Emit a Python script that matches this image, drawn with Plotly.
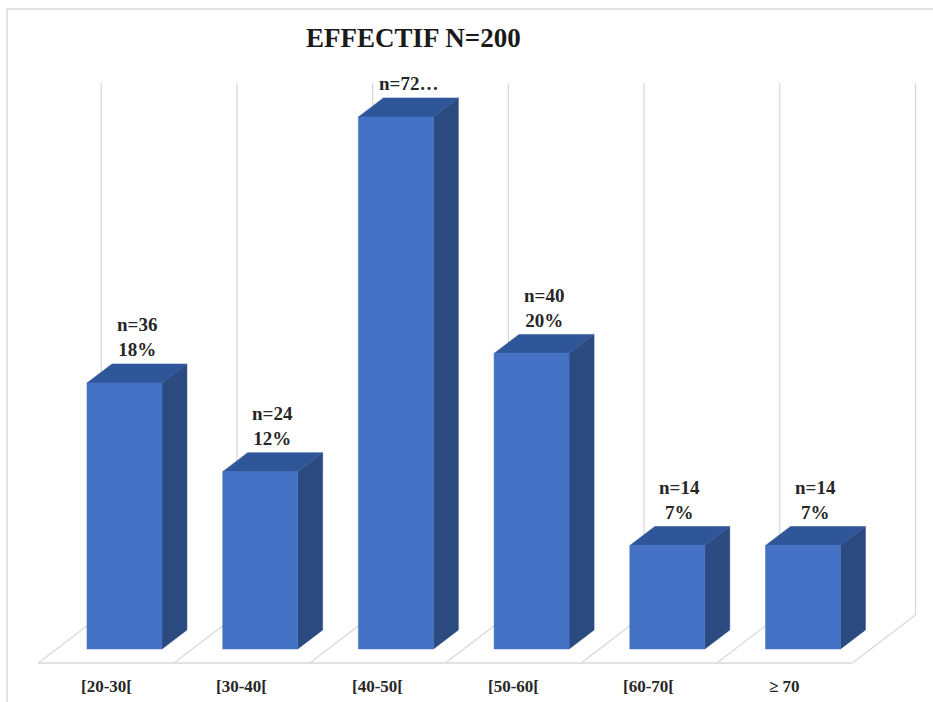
import plotly.graph_objects as go

# Age groups, counts and shares (N = 200)
categories = ["[20-30[", "[30-40[", "[40-50[", "[50-60[", "[60-70[", "\u2265 70"]
counts = [36, 24, 72, 40, 14, 14]
percents = [18, 12, 36, 20, 7, 7]
bar_labels = ["n=36<br>18%", "n=24<br>12%", "n=72\u2026", "n=40<br>20%", "n=14<br>7%", "n=14<br>7%"]
title_text = "EFFECTIF N=200"
wall_top = 36

# Oblique projection of the floor depth onto the 2D axes
DEPTH_DX = 0.4643      # category units per unit of depth
DEPTH_DV = 3.2476      # value units per unit of depth
BAR_FRONT = 0.2917     # depth of the bar front faces (0 = floor front, 1 = back wall)
BAR_BACK = 0.6875
HALF_W = 0.2765

FRONT = "#4472C4"
TOP = "#30569A"
SIDE = "#2A4A80"
GRID = "#D9D9D9"
FONT = "Liberation Serif"


def proj(x, v, d):
    return x + (d - BAR_FRONT) * DEPTH_DX, v + (d - BAR_FRONT) * DEPTH_DV


def poly(points, color, fig):
    xs, ys = zip(*[proj(*p) for p in points])
    fig.add_trace(go.Scatter(
        x=list(xs) + [xs[0]], y=list(ys) + [ys[0]], mode="lines", fill="toself",
        fillcolor=color, line=dict(color=color, width=0.5),
        hoverinfo="skip", showlegend=False))


def segment(p1, p2, fig):
    (x1, y1), (x2, y2) = proj(*p1), proj(*p2)
    fig.add_trace(go.Scatter(
        x=[x1, x2], y=[y1, y2], mode="lines", line=dict(color=GRID, width=1.3),
        hoverinfo="skip", showlegend=False))


fig = go.Figure()
n = len(categories)
edges = [k - 0.5 for k in range(n + 1)]

# floor: front edge and depth lines at the category boundaries
segment((edges[0], 0, 0), (edges[-1], 0, 0), fig)
for e in edges:
    segment((e, 0, 0), (e, 0, 1), fig)
# back wall vertical gridlines
for e in edges:
    segment((e, 0, 1), (e, wall_top, 1), fig)

# 3D bars: side, top, then front face
for i, v in enumerate(percents):
    l, r = i - HALF_W, i + HALF_W
    poly([(r, 0, BAR_FRONT), (r, 0, BAR_BACK), (r, v, BAR_BACK), (r, v, BAR_FRONT)], SIDE, fig)
    poly([(l, v, BAR_FRONT), (r, v, BAR_FRONT), (r, v, BAR_BACK), (l, v, BAR_BACK)], TOP, fig)
    poly([(l, 0, BAR_FRONT), (r, 0, BAR_FRONT), (r, v, BAR_FRONT), (l, v, BAR_FRONT)], FRONT, fig)

annotations = []
mid = (BAR_FRONT + BAR_BACK) / 2
for i, (v, lab) in enumerate(zip(percents, bar_labels)):
    x, y = proj(i, v, mid)
    annotations.append(dict(
        x=x, y=y, xref="x", yref="y", text="<b>%s</b>" % lab, showarrow=False,
        yanchor="bottom", xanchor="center", yshift=11, align="center",
        font=dict(family=FONT, size=19, color="#262626")))
for i, cat in enumerate(categories):
    x, y = proj(i, 0, 0)
    annotations.append(dict(
        x=x, y=y, xref="x", yref="y", text="<b>%s</b>" % cat, showarrow=False,
        yanchor="middle", xanchor="center", yshift=-23,
        font=dict(family=FONT, size=17, color="#262626")))
annotations.append(dict(
    x=413 / 933, y=1 - 38 / 702, xref="paper", yref="paper",
    text="<b>%s</b>" % title_text, showarrow=False, xanchor="center", yanchor="middle",
    font=dict(family=FONT, size=27, color="#1A1A1A")))

fig.update_layout(
    width=933, height=702,
    margin=dict(l=0, r=0, t=0, b=0),
    paper_bgcolor="white", plot_bgcolor="white",
    xaxis=dict(range=[-0.9175, 5.958], visible=False, fixedrange=True),
    yaxis=dict(range=[-3.586, 43.91], visible=False, fixedrange=True),
    annotations=annotations,
    shapes=[dict(type="rect", xref="paper", yref="paper",
                 x0=7 / 933, x1=1.02, y0=-0.02, y1=1 - 9 / 702,
                 line=dict(color=GRID, width=1.5))],
    showlegend=False,
)

fig.write_html("out.html")
